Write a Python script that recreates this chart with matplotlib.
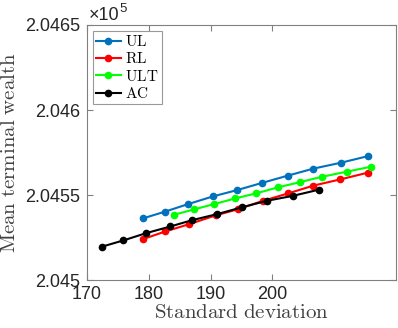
import matplotlib
matplotlib.use("Agg")
import matplotlib.pyplot as plt
from matplotlib.ticker import FuncFormatter

plt.rcParams['mathtext.fontset'] = 'cm'
plt.rcParams['font.family'] = ['Liberation Sans', 'DejaVu Sans']

ul_x = [179.1, 182.6, 186.4, 190.4, 194.2, 198.3, 202.5, 206.6, 211.1, 215.5]
ul_y = [204536.3, 204540.2, 204544.7, 204549.2, 204552.8, 204557.1, 204561.4, 204565.5, 204569.0, 204572.9]
rl_x = [179.1, 182.7, 186.5, 190.8, 194.4, 198.4, 202.6, 206.6, 211.0, 215.4]
rl_y = [204524.1, 204528.6, 204532.8, 204538.0, 204541.6, 204546.5, 204551.0, 204555.5, 204559.2, 204563.1]
ult_x = [184.1, 187.3, 190.6, 194.0, 197.4, 200.9, 204.5, 208.0, 212.0, 215.9]
ult_y = [204538.4, 204541.5, 204544.7, 204548.0, 204551.0, 204554.5, 204557.6, 204560.7, 204563.7, 204566.6]
ac_x = [172.4, 175.9, 179.5, 183.5, 187.0, 191.1, 195.1, 199.1, 203.3, 207.6]
ac_y = [204519.6, 204523.3, 204527.5, 204531.5, 204535.2, 204538.8, 204542.8, 204546.6, 204549.5, 204553.2]

labels = ['UL', 'RL', 'ULT', 'AC']
colors = ['#0072BD', '#FF0000', '#00FF00', '#000000']
xticks = [170, 180, 190, 200]
yticks = [204500, 204550, 204600, 204650]

fig = plt.figure(figsize=(3.98, 3.28), dpi=100)
ax = fig.add_axes([0.2186, 0.1463, 0.9950 - 0.2186, 0.9238 - 0.1463])

series = [(ul_x, ul_y), (rl_x, rl_y), (ult_x, ult_y), (ac_x, ac_y)]
for (xs, ys), lab, c in zip(series, labels, colors):
    ax.plot(xs, ys, '-o', color=c, lw=1.5, ms=4.5, label=r'$\mathrm{%s}$' % lab)

ax.set_xlim(170, 220)
ax.set_ylim(204500, 204650)
ax.set_xticks(xticks)
ax.set_yticks(yticks)

def yfmt(v, pos):
    s = ('%.4f' % (v / 1e5)).rstrip('0').rstrip('.')
    return s
ax.yaxis.set_major_formatter(FuncFormatter(yfmt))

gray = '#262626'
for sp in ax.spines.values():
    sp.set_color('#808080')
    sp.set_linewidth(0.8)
ax.tick_params(direction='in', top=True, right=True, length=4, width=0.8,
               colors='#808080', labelcolor=gray, labelsize=13)
ax.tick_params(axis='x', pad=4)
ax.tick_params(axis='y', pad=5)

ax.set_xlabel(r'$\mathrm{Standard\ deviation}$', fontsize=15, color='#404040', labelpad=0)
ax.set_ylabel(r'$\mathrm{Mean\ terminal\ wealth}$', fontsize=15, color='#404040', labelpad=4)

fig.text(0.222, 0.94, '×10', fontsize=13, color=gray, ha='left', va='baseline')
fig.text(0.300, 0.962, '5', fontsize=9.5, color=gray, ha='left', va='baseline')

leg = ax.legend(loc='upper left', fontsize=11, frameon=True, fancybox=False,
                edgecolor='#808080', borderaxespad=0.4, handlelength=1.6,
                handletextpad=0.3, labelspacing=0.15, borderpad=0.2)
leg.get_frame().set_linewidth(0.8)

fig.savefig('out.png', dpi=100)
